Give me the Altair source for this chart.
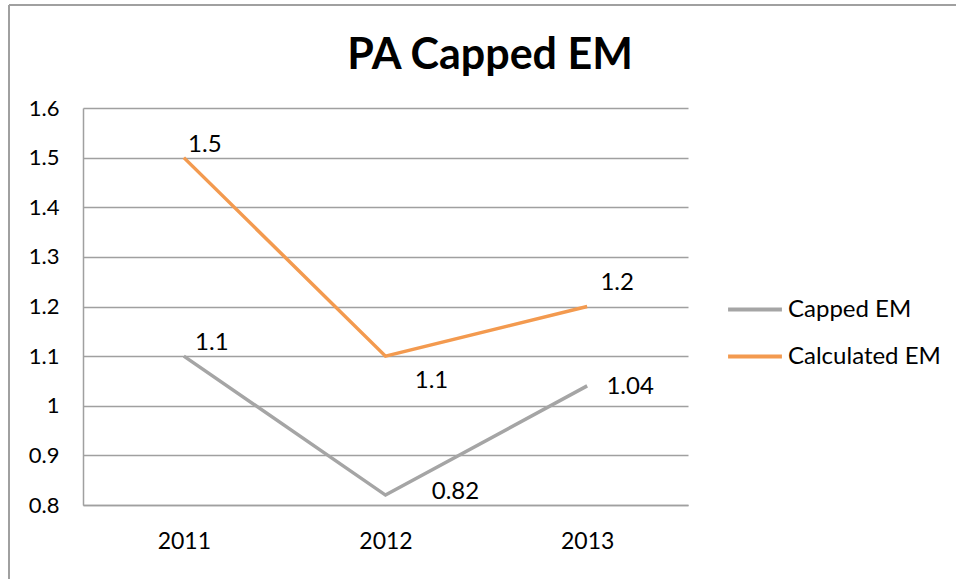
import altair as alt
import pandas as pd

years = ["2011", "2012", "2013"]
capped_em = [1.1, 0.82, 1.04]
calculated_em = [1.5, 1.1, 1.2]
series_names = ["Capped EM", "Calculated EM"]
y_ticks = [0.8, 0.9, 1.0, 1.1, 1.2, 1.3, 1.4, 1.5, 1.6]

rows = []
for s, vals in zip(series_names, [capped_em, calculated_em]):
    for yr, v in zip(years, vals):
        rows.append({"year": yr, "value": v, "series": s, "label": f"{v:g}"})
df = pd.DataFrame(rows)

FONT = "Lato"
GRID = "#a0a0a0"
colors = ["#a5a5a5", "#f39a4f"]

W, H = 605, 397
PL, PT = 83, 108

x_enc = alt.X("year:N", title=None, sort=years,
              scale=alt.Scale(type="point", padding=0.5),
              axis=alt.Axis(labelAngle=0, ticks=False, domainColor=GRID, domainWidth=1.5,
                            labelFont=FONT, labelFontSize=23, labelColor="#000",
                            labelPadding=25))
y_enc = alt.Y("value:Q", title=None,
              scale=alt.Scale(domain=[0.8, 1.6], nice=False, zero=False),
              axis=alt.Axis(values=y_ticks, format="~g", ticks=False, grid=True,
                            gridColor=GRID, gridWidth=1.5, domainColor=GRID, domainWidth=1.5,
                            labelFont=FONT, labelFontSize=22, labelColor="#000",
                            labelPadding=24))

base = alt.Chart(df)

lines = base.mark_line(strokeWidth=3.5).encode(
    x=x_enc, y=y_enc,
    color=alt.Color("series:N", sort=series_names,
                    scale=alt.Scale(domain=series_names, range=colors),
                    legend=alt.Legend(title=None, orient="none", legendX=643, legendY=178,
                                      symbolType="stroke", symbolSize=2900,
                                      symbolStrokeWidth=4, clipHeight=47, rowPadding=0,
                                      labelFont=FONT, labelFontSize=24, labelColor="#000",
                                      labelOffset=4)),
)

# label offsets (dx, dy) per point, as in the reference
offsets = {
    ("Calculated EM", "2011"): (21, -13),
    ("Capped EM", "2011"): (28, -13),
    ("Calculated EM", "2012"): (46, 25),
    ("Capped EM", "2012"): (70, -3),
    ("Calculated EM", "2013"): (30, -24),
    ("Capped EM", "2013"): (43, 1),
}
label_layers = []
for (s, yr), (dx, dy) in offsets.items():
    label_layers.append(
        base.transform_filter(
            (alt.datum.series == s) & (alt.datum.year == yr)
        ).mark_text(font=FONT, fontSize=24, color="#000", dx=dx, dy=dy,
                    align="center", baseline="middle").encode(
            x=alt.X("year:N", sort=years, scale=alt.Scale(type="point", padding=0.5)),
            y=alt.Y("value:Q"),
            text="label:N",
        )
    )

border_top = alt.Chart(pd.DataFrame({"a": [0]})).mark_rule(color="#a0a0a0", strokeWidth=2).encode(
    x=alt.value(9 - PL), x2=alt.value(956 - PL), y=alt.value(5 - PT))
border_left = alt.Chart(pd.DataFrame({"a": [0]})).mark_rule(color="#a0a0a0", strokeWidth=2).encode(
    x=alt.value(9 - PL), y=alt.value(5 - PT), y2=alt.value(579 - PT))

title_mark = alt.Chart(pd.DataFrame({"t": ["PA Capped EM"]})).mark_text(
    font=FONT, fontSize=43, fontWeight="bold", color="#000", align="center",
    baseline="alphabetic").encode(
    x=alt.value(490 - PL), y=alt.value(69 - PT), text="t:N")

chart = alt.layer(lines, *label_layers, border_top, border_left, title_mark).properties(
    width=W, height=H,
    autosize=alt.AutoSizeParams(type="none"),
    padding={"left": PL, "top": PT, "right": 956 - PL - W, "bottom": 579 - PT - H},
    background="white",
).configure_view(stroke=None)

chart.save("out.html", embed_options={"renderer": "svg", "actions": False})
